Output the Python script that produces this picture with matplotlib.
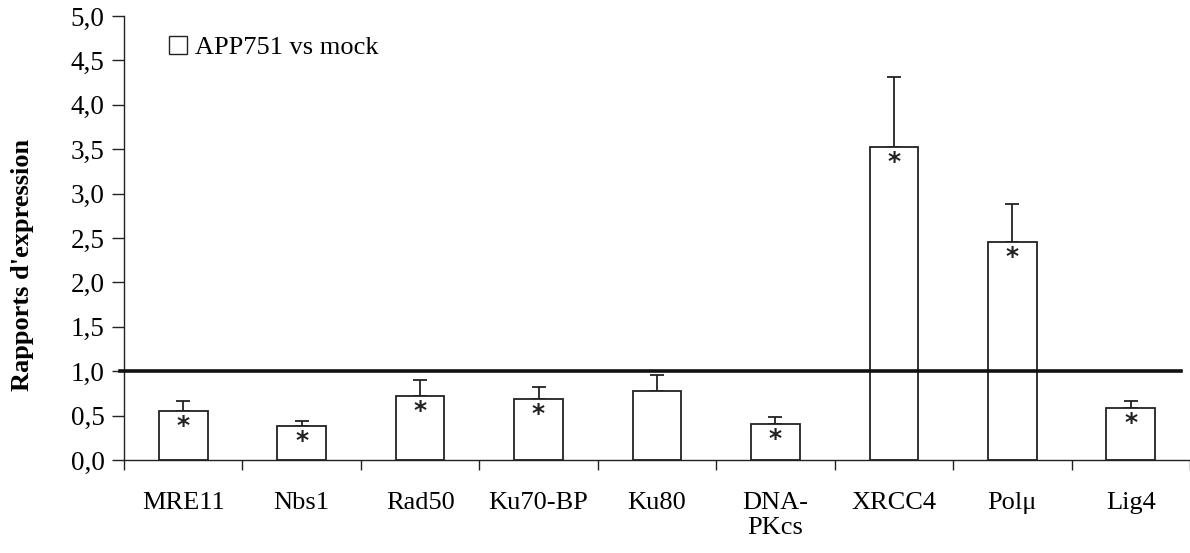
import numpy as np
import matplotlib
matplotlib.use("Agg")
import matplotlib.pyplot as plt
from matplotlib.patches import Patch

genes = ["MRE11", "Nbs1", "Rad50", "Ku70-BP", "Ku80", "DNA-\nPKcs", "XRCC4", "Polμ", "Lig4"]
ratios = [0.55, 0.38, 0.72, 0.69, 0.78, 0.40, 3.52, 2.46, 0.59]
errors = [0.12, 0.06, 0.18, 0.13, 0.18, 0.08, 0.79, 0.42, 0.08]
significant = [True, True, True, True, False, True, True, True, True]
yticks = [0.0, 0.5, 1.0, 1.5, 2.0, 2.5, 3.0, 3.5, 4.0, 4.5, 5.0]

plt.rcParams['font.family'] = ['Liberation Serif', 'DejaVu Serif']
ink = "#222222"

fig = plt.figure(figsize=(11.9, 5.53), dpi=100)
ax = fig.add_axes([124/1190, 1 - 460/553, 1066/1190, 444/553])

x = np.arange(len(genes))
ax.bar(x, ratios, width=0.41, color="white", edgecolor=ink, linewidth=1.3, zorder=2)
ax.errorbar(x, ratios, yerr=[np.zeros(len(errors)), errors], fmt="none",
            ecolor=ink, elinewidth=1.3, capsize=5, capthick=1.3, zorder=1)

# reference line at ratio 1
ax.plot([-0.53, 8.42], [1.0, 1.0], color="#111111", linewidth=2.6, zorder=3, clip_on=False)

for xi, yi, s in zip(x, ratios, significant):
    if s:
        ax.annotate("*", (xi, yi), xytext=(0, -15), textcoords="offset pixels",
                    ha="center", va="center", fontsize=18, fontweight="bold",
                    family="DejaVu Sans", color=ink, zorder=4)

ax.set_xlim(-0.5, 8.5)
ax.set_ylim(0, 5)
ax.set_yticks(yticks)
ax.set_yticklabels([f"{v:.1f}".replace(".", ",") for v in yticks], fontsize=19.5)
ax.set_xticks(x)
ax.set_xticklabels(genes, fontsize=19)
ax.set_xticks(np.arange(-0.5, 9.0, 1.0), minor=True)
ax.tick_params(axis="x", which="major", length=0, pad=23)
ax.tick_params(axis="x", which="minor", length=7, width=1.0, color=ink, direction="out")
ax.tick_params(axis="y", length=9, width=1.0, color=ink, direction="out", pad=5)

for side in ["top", "right"]:
    ax.spines[side].set_visible(False)
for side in ["left", "bottom"]:
    ax.spines[side].set_color(ink)
    ax.spines[side].set_linewidth(1.0)

ax.set_ylabel("Rapports d'expression", fontsize=19, fontweight="bold")
ax.yaxis.set_label_coords(-0.084, 0.44)

handle = Patch(facecolor="white", edgecolor=ink, linewidth=1.0)
ax.legend([handle], ["APP751 vs mock"], loc="upper left", bbox_to_anchor=(0.042, 0.955),
          frameon=False, fontsize=19, handlelength=0.68, handleheight=0.68,
          handletextpad=0.3, borderpad=0, borderaxespad=0)

fig.savefig("out.png", dpi=100)
